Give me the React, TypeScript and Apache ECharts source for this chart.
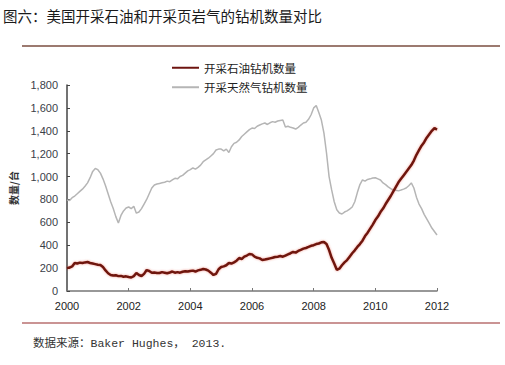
import React, { useEffect, useRef } from "react";
import * as echarts from "echarts";

const titleText = "图六：美国开采石油和开采页岩气的钻机数量对比";
const sourceText = "数据来源：Baker Hughes， 2013.";
const yAxisName = "数量/台";
const seriesNames = ["开采石油钻机数量", "开采天然气钻机数量"];
const startYear = 2000;
const xTicks = [2000, 2002, 2004, 2006, 2008, 2010, 2012];

// monthly values from Jan 2000 to Jan 2012
const oilRigs = [
  200, 205, 215, 245, 240, 248, 245, 250, 253, 245, 240, 235,
  230, 228, 210, 180, 155, 140, 135, 138, 130, 132, 125, 128,
  122, 118, 130, 157, 140, 131, 150, 183, 175, 160, 162, 158,
  157, 165, 160, 155, 162, 170, 160, 165, 160, 168, 172, 170,
  175, 178, 170, 180, 185, 192, 188, 178, 160, 140, 150, 190,
  210, 215, 225, 245, 240, 250, 265, 288, 280, 300, 310, 323,
  320, 300, 290, 285, 271, 275, 280, 285, 290, 297, 300, 305,
  300, 310, 320, 330, 341, 335, 350, 360, 370, 376, 385, 395,
  400, 410, 415, 425, 428, 410, 358, 290, 240, 185, 195, 225,
  250, 270, 300, 330, 355, 385, 410, 440, 480, 510, 545, 580,
  620, 650, 690, 720, 760, 795, 830, 870, 910, 950, 980, 1010,
  1040, 1070, 1100, 1140, 1190, 1230, 1270, 1300, 1340, 1370, 1400, 1424,
  1410,
];
const gasRigs = [
  795, 790, 815, 830, 850, 870, 890, 915, 945, 990, 1045, 1070,
  1060, 1030, 980, 920, 850, 780, 720, 650, 594, 660, 700, 725,
  734, 720, 740, 680, 690, 720, 760, 800, 850, 900, 926, 935,
  940, 945, 950, 960, 955, 970, 985, 980, 1000, 1010, 1030, 1050,
  1060, 1075, 1065, 1080, 1100, 1130, 1145, 1160, 1180, 1200, 1232, 1240,
  1240, 1225, 1240, 1210, 1260, 1290, 1300, 1320, 1350, 1370, 1390, 1410,
  1424, 1420, 1440, 1450, 1460, 1468, 1455, 1470, 1480, 1475, 1485, 1490,
  1494, 1433, 1440, 1430, 1424, 1415, 1430, 1450, 1468, 1475, 1500, 1540,
  1600, 1620, 1560, 1494, 1380, 1206, 1000, 883, 780, 710, 681, 673,
  690, 700, 715, 734, 780, 860, 930, 970, 960, 975, 980, 987,
  990, 980, 970, 944, 930, 910, 895, 882, 880, 875, 882, 890,
  900, 920, 944, 900, 820, 760, 720, 670, 630, 590, 550, 520,
  489,
];

const toPoints = (arr: number[]) => arr.map((v, i) => [startYear + i / 12, v]);

export default function App() {
  const ref = useRef<HTMLDivElement>(null);
  useEffect(() => {
    if (!ref.current) return;
    const chart = echarts.init(ref.current, null, { renderer: "svg" });
    const cjk = "'Noto Sans CJK SC', sans-serif";
    chart.setOption({
      animation: false,
      backgroundColor: "#ffffff",
      textStyle: { fontFamily: cjk },
      grid: { left: 64, right: 68, top: 85, bottom: 74 },
      legend: {
        orient: "vertical",
        left: 166,
        top: 57,
        itemWidth: 27,
        itemHeight: 12,
        itemGap: 8,
        itemStyle: { color: "transparent", borderColor: "transparent", borderWidth: 0, opacity: 0 },
        textStyle: { fontSize: 11.5, color: "#222", fontFamily: cjk },
        data: seriesNames,
      },
      xAxis: {
        type: "value",
        min: 2000,
        max: 2012,
        interval: 2,
        axisLine: { lineStyle: { color: "#777", width: 1.5 } },
        axisTick: { inside: true, length: 3, lineStyle: { color: "#777" } },
        axisLabel: {
          color: "#222",
          fontSize: 11,
          fontFamily: "Arial, 'Liberation Sans', sans-serif",
          margin: 9,
          formatter: (v: number) => (xTicks.includes(v) ? String(v) : ""),
        },
        splitLine: { show: false },
      },
      yAxis: {
        type: "value",
        min: 0,
        max: 1800,
        interval: 200,
        name: yAxisName,
        nameLocation: "middle",
        nameRotate: 90,
        nameGap: 49,
        nameTextStyle: { fontSize: 10, fontWeight: "bold", color: "#333", fontFamily: cjk },
        axisLine: { show: true, lineStyle: { color: "#444", width: 1.5 } },
        axisTick: { show: true, inside: true, length: 3, lineStyle: { color: "#444" } },
        axisLabel: {
          color: "#3a4048",
          fontSize: 11,
          fontFamily: "Arial, 'Liberation Sans', sans-serif",
          margin: 9,
          formatter: (v: number) => v.toLocaleString("en-US"),
        },
        splitLine: { show: false },
      },
      series: [
        {
          name: seriesNames[0],
          type: "line",
          data: toPoints(oilRigs),
          symbol: "none",
          lineStyle: { color: "#6e1410", width: 2.5, shadowColor: "rgba(220,60,40,0.5)", shadowBlur: 2 },
          itemStyle: { color: "#6e1410" },
          z: 3,
        },
        {
          name: seriesNames[1],
          type: "line",
          data: toPoints(gasRigs),
          symbol: "none",
          lineStyle: { color: "#b5b5b5", width: 1.5 },
          itemStyle: { color: "#b5b5b5" },
          z: 2,
        },
      ],
      graphic: [
        {
          type: "text",
          left: 3,
          top: 8,
          style: { text: titleText, fontSize: 14.5, fill: "#1a1a1a", fontFamily: cjk },
        },
        {
          type: "line",
          shape: { x1: 22, y1: 46, x2: 500, y2: 46 },
          style: { stroke: "#9c7a70", lineWidth: 2 },
        },
        {
          type: "line",
          shape: { x1: 22, y1: 323, x2: 500, y2: 323 },
          style: { stroke: "#b87070", lineWidth: 1.5 },
        },
        {
          type: "text",
          left: 33,
          top: 338,
          style: {
            text: sourceText,
            fontSize: 11.5,
            fill: "#333",
            fontFamily: "'Liberation Mono', 'Noto Sans CJK SC', monospace",
          },
        },
      ],
    });
    return () => chart.dispose();
  }, []);
  return <div ref={ref} style={{ width: 505, height: 365, position: "absolute", left: 0, top: 0 }} />;
}
